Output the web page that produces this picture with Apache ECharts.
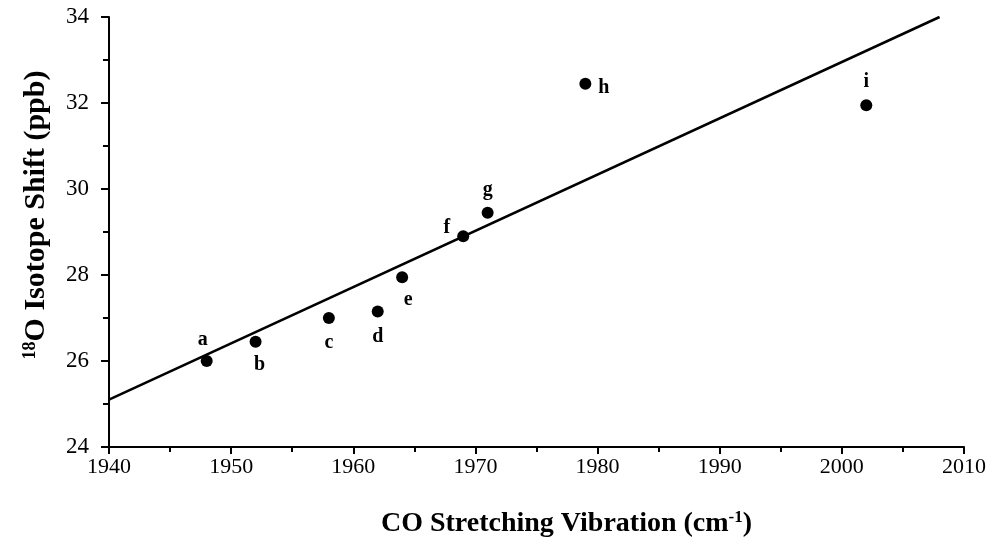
<!DOCTYPE html>
<html>
<head>
<meta charset="utf-8">
<script src="https://cdn.jsdelivr.net/npm/echarts@6/dist/echarts.min.js"></script>
<style>
  html, body { margin: 0; padding: 0; background: #fff; }
  #chart { width: 989px; height: 553px; }
</style>
</head>
<body>
<div id="chart"></div>
<script>
// CO stretching frequency (cm-1) vs 18O isotope shift (ppb)
const labels = ['a', 'b', 'c', 'd', 'e', 'f', 'g', 'h', 'i'];
const freq = [1948, 1952, 1958, 1962, 1964, 1969, 1971, 1979, 2002];
const shift = [26.0, 26.45, 27.0, 27.15, 27.95, 28.9, 29.45, 32.45, 31.95];
// where each letter sits next to its dot
const labelPos = ['top', 'bottom', 'bottom', 'bottom', 'bottom', 'left', 'top', 'right', 'top'];
const labelOffset = [[-4, 0], [4, 2], [0, 4], [0, 4], [6, 2], [-2, -8], [0, -2], [2, 4], [0, -2]];

// regression line ends
const fitX = [1940, 2008];
const fitY = [25.1, 34.0];

const serif = '"Liberation Serif", "DejaVu Serif", serif';

const chart = echarts.init(document.getElementById('chart'));

const points = freq.map((x, i) => ({
    value: [x, shift[i]],
    label: {
        show: true,
        formatter: labels[i],
        position: labelPos[i],
        offset: labelOffset[i]
    }
}));

const richTitle = (size) => ({
    b: { fontFamily: serif, fontWeight: 'bold', fontSize: size, color: '#000' },
    sup: { fontFamily: serif, fontWeight: 'bold', fontSize: Math.round(size * 0.6), color: '#000', verticalAlign: 'top', padding: [0, 0, 12, 0] }
});

chart.setOption({
    animation: false,
    grid: { left: 109, right: 22, top: 17, bottom: 106 },
    xAxis: {
        type: 'value',
        min: 1940, max: 2010, interval: 10,
        name: '{b|CO Stretching Vibration (cm}{sup|-1}{b|)}',
        nameLocation: 'middle',
        nameGap: 62,
        nameTextStyle: { padding: [0, 0, 0, 60], rich: richTitle(28) },
        axisLine: { lineStyle: { color: '#000', width: 2 } },
        axisTick: { inside: false, length: 7, lineStyle: { color: '#000', width: 2 } },
        minorTick: { show: true, splitNumber: 2, length: 5, lineStyle: { color: '#000', width: 2 } },
        axisLabel: {
            fontFamily: serif, fontSize: 22, color: '#000', margin: 9,
            formatter: (v) => String(v)
        },
        splitLine: { show: false }
    },
    yAxis: {
        type: 'value',
        min: 24, max: 34, interval: 2,
        name: '{sup|18}{b|O Isotope Shift (ppb)}',
        nameLocation: 'middle',
        nameGap: 58,
        nameRotate: 90,
        nameTextStyle: { padding: [0, 0, 0, 34], rich: richTitle(30) },
        axisLine: { show: true, lineStyle: { color: '#000', width: 2 } },
        axisTick: { show: true, inside: false, length: 8, lineStyle: { color: '#000', width: 2 } },
        minorTick: { show: true, splitNumber: 2, length: 6, lineStyle: { color: '#000', width: 2 } },
        axisLabel: { fontFamily: serif, fontSize: 23, color: '#000', margin: 20 },
        splitLine: { show: false }
    },
    series: [
        {
            type: 'line',
            data: fitX.map((x, i) => [x, fitY[i]]),
            symbol: 'none',
            lineStyle: { color: '#000', width: 2.5 },
            z: 1
        },
        {
            type: 'scatter',
            data: points,
            symbol: 'circle',
            symbolSize: 12,
            itemStyle: { color: '#000', opacity: 1 },
            label: {
                fontFamily: serif,
                fontWeight: 'bold',
                fontSize: 20,
                color: '#000'
            },
            z: 2
        }
    ]
});
</script>
</body>
</html>
